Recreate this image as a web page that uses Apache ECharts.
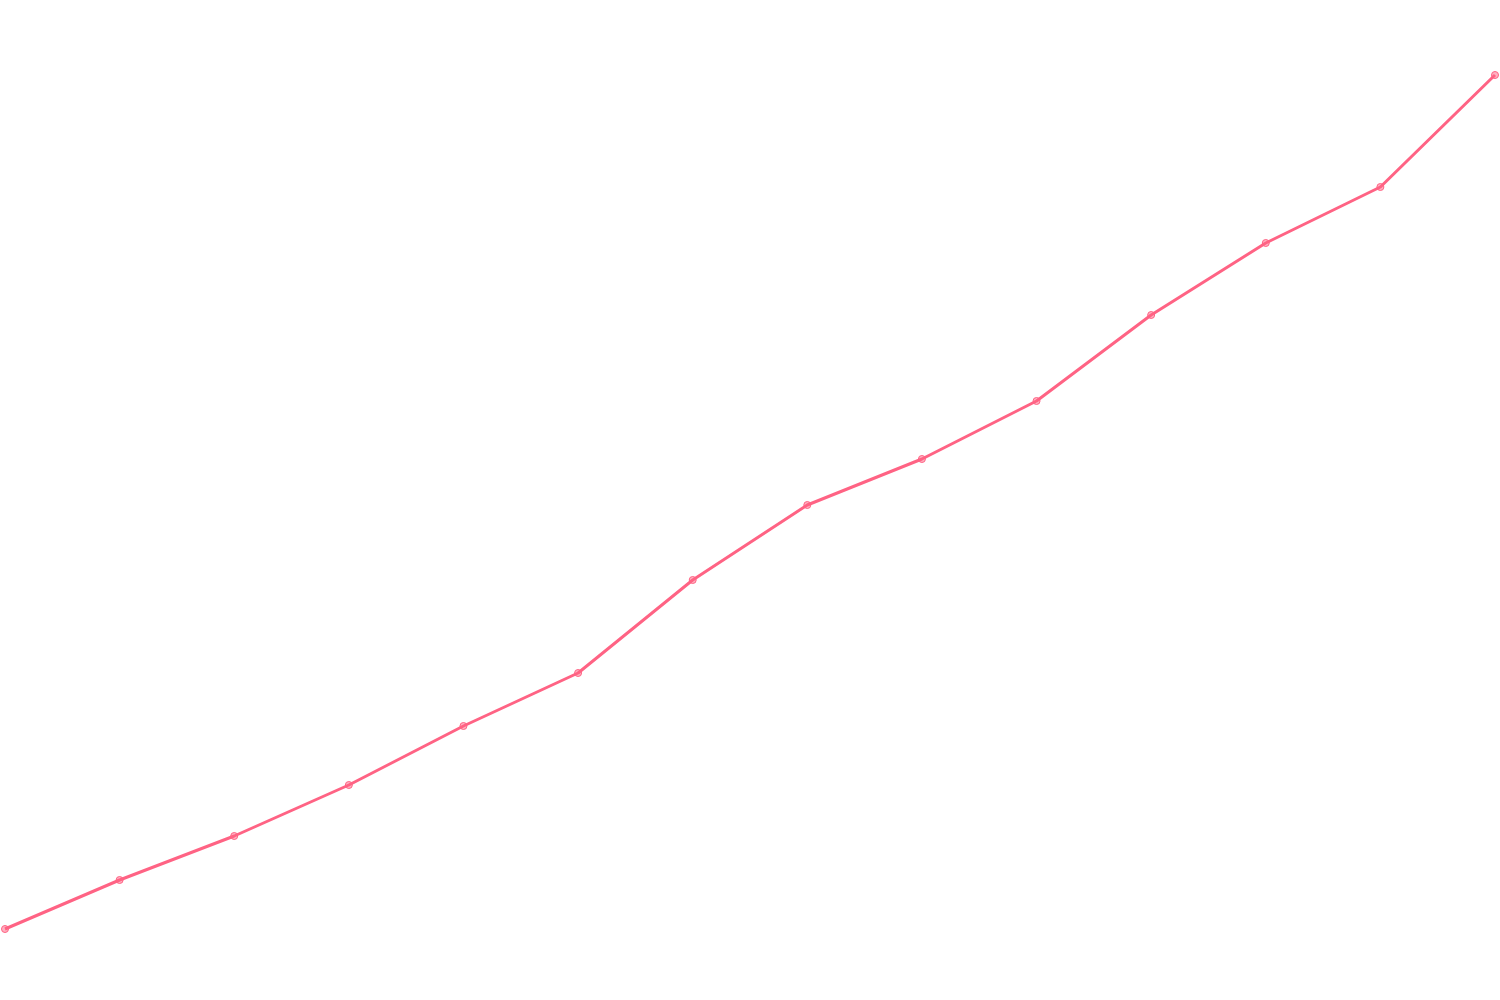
<!DOCTYPE html>
<html><head><meta charset="utf-8">
<script src="https://cdn.jsdelivr.net/npm/echarts@6/dist/echarts.min.js"></script>
<style>html,body{margin:0;padding:0;background:#fff}#c{width:1500px;height:1000px}</style>
</head><body><div id="c"></div>
<script>
const categories = ['1','2','3','4','5','6','7','8','9','10','11','12','13','14'];
const values = [71, 120, 164, 215, 274, 327, 420, 495, 541, 599, 685, 757, 813, 925];
const chart = echarts.init(document.getElementById('c'));
chart.setOption({
  animation: false,
  grid: {left: 5, right: 5, top: 0, bottom: 0},
  xAxis: {type: 'category', data: categories, boundaryGap: false, show: false},
  yAxis: {type: 'value', min: 0, max: 1000, show: false},
  series: [{
    type: 'line',
    data: values,
    symbol: 'circle',
    symbolSize: 7,
    showAllSymbol: true,
    lineStyle: {color: '#ff6384', width: 3},
    itemStyle: {color: 'rgba(255,99,132,0.5)', borderColor: '#ff6384', borderWidth: 1}
  }]
});
</script></body></html>
